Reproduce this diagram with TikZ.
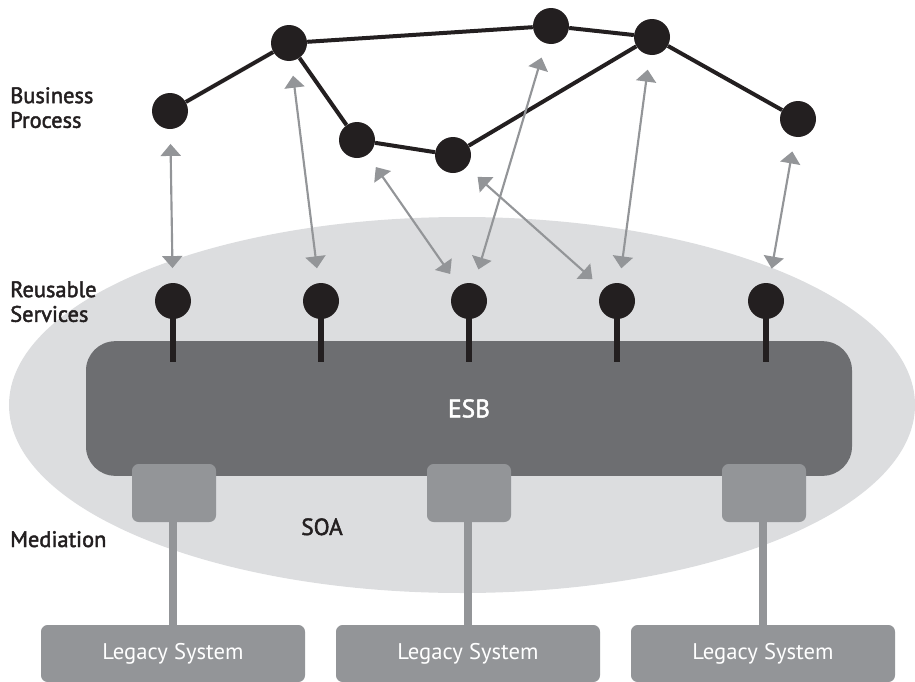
\documentclass[tikz,border=0pt]{standalone}
\usepackage{fontspec}
\setmainfont{PT Sans}
\newfontfamily\semibold[FakeBold=2]{PT Sans}
\usepackage{tikz}
\usetikzlibrary{arrows.meta, positioning, shapes.geometric}
\definecolor{inkblack}{HTML}{231F20}
\definecolor{busgray}{HTML}{6D6E71}
\definecolor{midgray}{HTML}{939598}
\definecolor{soagray}{HTML}{DCDDDF}
\tikzset{
    procnode/.style={circle, fill=inkblack, minimum size=27pt, inner sep=0pt},
    svcnode/.style={circle, fill=inkblack, minimum size=27pt, inner sep=0pt},
    flow/.style={draw=inkblack, line width=3pt},
    link/.style={{Triangle[length=9pt, width=15pt]}-{Triangle[length=9pt, width=15pt]}, draw=midgray, line width=1.6pt, shorten <=11pt, shorten >=11pt},
    svcstem/.style={draw=inkblack, line width=4.5pt},
    soa/.style={ellipse, fill=soagray, minimum width=679.5pt, minimum height=282pt, inner sep=0pt},
    bus/.style={rectangle, rounded corners=22pt, fill=busgray, minimum width=574.5pt, minimum height=101pt, text=white, font=\semibold\fontsize{19}{21}\selectfont},
    medbox/.style={rectangle, rounded corners=5pt, fill=midgray, minimum width=63pt, minimum height=43.5pt},
    medline/.style={draw=midgray, line width=6pt},
    legacy/.style={rectangle, rounded corners=5pt, fill=midgray, minimum width=198pt, minimum height=42.75pt, text=white, font=\fontsize{17}{19}\selectfont},
    layer/.style={font=\semibold\fontsize{16.8}{18.5}\selectfont, text=inkblack, align=left, inner sep=0pt}
}

\begin{document}
\begin{tikzpicture}[x=0.75pt, y=-0.75pt]
    \useasboundingbox (0,0) rectangle (915,682);

    % SOA area
    \node[soa] (soaarea) at (462,405) {};
    \node[font=\semibold\fontsize{17.5}{19}\selectfont, text=inkblack, anchor=base] (soatext) at (322,535) {SOA};

    % ESB
    \node[bus] (esb) at (469,408.5) {ESB};

    % Mediation and legacy systems
    \node[medbox] (med1) at (174,493) {};
    \node[medbox] (med2) at (469,493) {};
    \node[medbox] (med3) at (764,493) {};
    \node[legacy] (leg1) at (173,653.5) {Legacy System};
    \node[legacy] (leg2) at (468,653.5) {Legacy System};
    \node[legacy] (leg3) at (763,653.5) {Legacy System};
    \foreach \i in {1,2,3}
        \draw[medline] (med\i.south -| leg\i.north) -- (leg\i.north);

    % Reusable services
    \foreach \i/\x in {1/173, 2/321, 3/469, 4/617, 5/766} {
        \node[svcnode] (s\i) at (\x,301) {};
        \draw[svcstem] (s\i.center) -- ++(0,61);
    }

    % Business process
    \node[procnode] (p1) at (170,111) {};
    \node[procnode] (p2) at (289,43) {};
    \node[procnode] (p3) at (357,140) {};
    \node[procnode] (p4) at (453,155) {};
    \node[procnode] (p5) at (551,26) {};
    \node[procnode] (p6) at (652,37) {};
    \node[procnode] (p7) at (798,119) {};
    \draw[flow] (p1) -- (p2) -- (p5) -- (p6) -- (p7);
    \draw[flow] (p2) -- (p3) -- (p4) -- (p6);

    % Bindings
    \draw[link] (p1) -- (s1);
    \draw[link] (p2) -- (s2);
    \draw[link] (p3) -- (s3);
    \draw[link] (p5) -- (s3);
    \draw[link] (p4) -- (s4);
    \draw[link] (p6) -- (s4);
    \draw[link] (p7) -- (s5);

    % Layer labels
    \node[layer, anchor=north west] (lblbp) at (10,87) {Business\\Process};
    \node[layer, anchor=north west] (lblrs) at (10,281) {Reusable\\Services};
    \node[layer, anchor=base west] (lblmed) at (10,547) {Mediation};
\end{tikzpicture}
\end{document}
